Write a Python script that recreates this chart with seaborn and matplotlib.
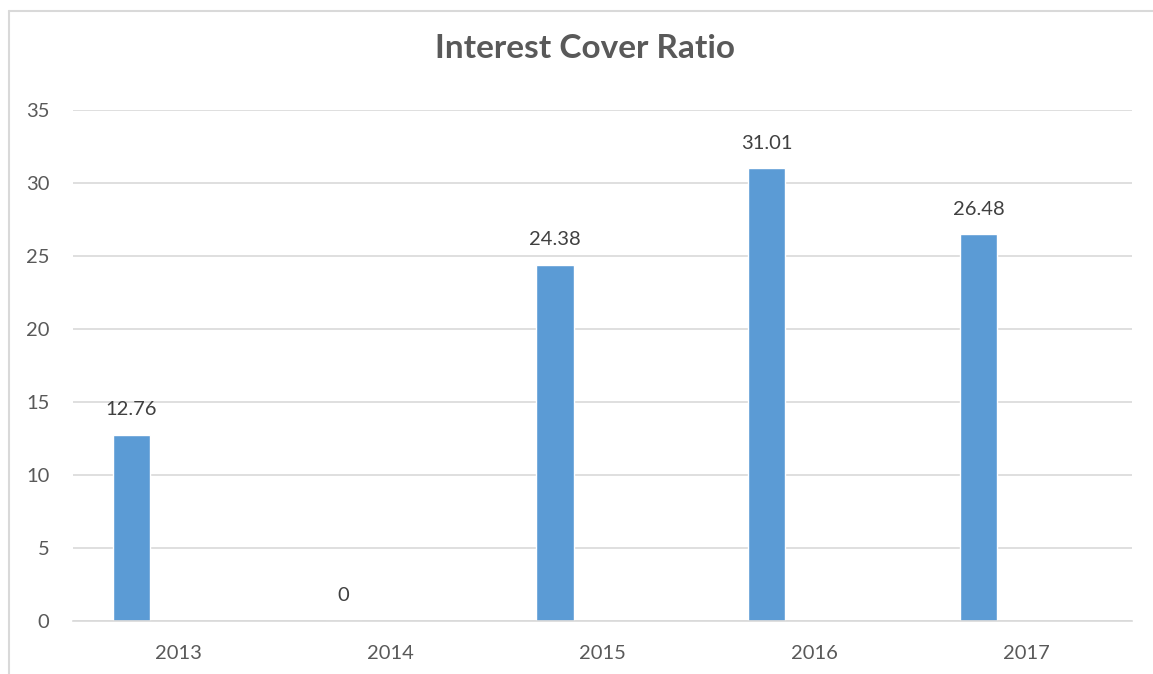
import matplotlib
matplotlib.use("Agg")
import matplotlib.pyplot as plt
import seaborn as sns
import pandas as pd
from matplotlib.lines import Line2D

years = ["2013", "2014", "2015", "2016", "2017"]
ratio = [12.76, 0, 24.38, 31.01, 26.48]
series_name = "Interest Cover Ratio"
title = "Interest Cover Ratio"
yticks = [0, 5, 10, 15, 20, 25, 30, 35]

sns.set_theme(style="white")
plt.rcParams['font.family'] = ['Lato', 'DejaVu Sans']

# Excel-style clustered layout: one visible series among three slots
df = pd.DataFrame({
    "year": years * 3,
    "value": ratio + [float('nan')] * 10,
    "series": [series_name] * 5 + ["s2"] * 5 + ["s3"] * 5,
})

fig = plt.figure(figsize=(11.53, 6.74), dpi=100)
ax = fig.add_axes([73/1153, 1-621/674, (1132-73)/1153, (621-110)/674])

sns.barplot(data=df, x="year", y="value", hue="series", ax=ax,
            palette=["#5B9BD5", "#ED7D31", "#A5A5A5"], width=0.673, gap=0.22,
            legend=False, saturation=1, errorbar=None)

ax.set_ylim(0, 35)
ax.set_yticks(yticks)
ax.set_xlim(-0.5, 4.5)
ax.yaxis.grid(True, color="#D9D9D9", linewidth=1.2)
ax.set_axisbelow(True)
for s in ["top", "right", "left"]:
    ax.spines[s].set_visible(False)
ax.spines["bottom"].set_color("#D9D9D9")
ax.spines["bottom"].set_linewidth(1.2)
ax.set_xlabel("")
ax.set_ylabel("")
ax.tick_params(axis="both", length=0, labelsize=14.5, labelcolor="#595959")
ax.tick_params(axis="y", pad=17)
ax.tick_params(axis="x", pad=17)

cont = ax.containers[0]
ax.bar_label(cont, labels=[f"{v:g}" if v != 0 else "0" for v in ratio],
             padding=12, fontsize=14.5, color="#404040")

fig.text(585/1153, 1-48/674, title, ha="center", va="center",
         fontsize=24, fontweight="bold", color="#595959")

# chart frame (top, left)
fig.add_artist(Line2D([9/1153, 9/1153], [0, 1-11/674], transform=fig.transFigure,
                      color="#D9D9D9", linewidth=1.5))
fig.add_artist(Line2D([9/1153, 1.0], [1-11/674, 1-11/674], transform=fig.transFigure,
                      color="#D9D9D9", linewidth=1.5))

fig.savefig("out.png", dpi=100)
